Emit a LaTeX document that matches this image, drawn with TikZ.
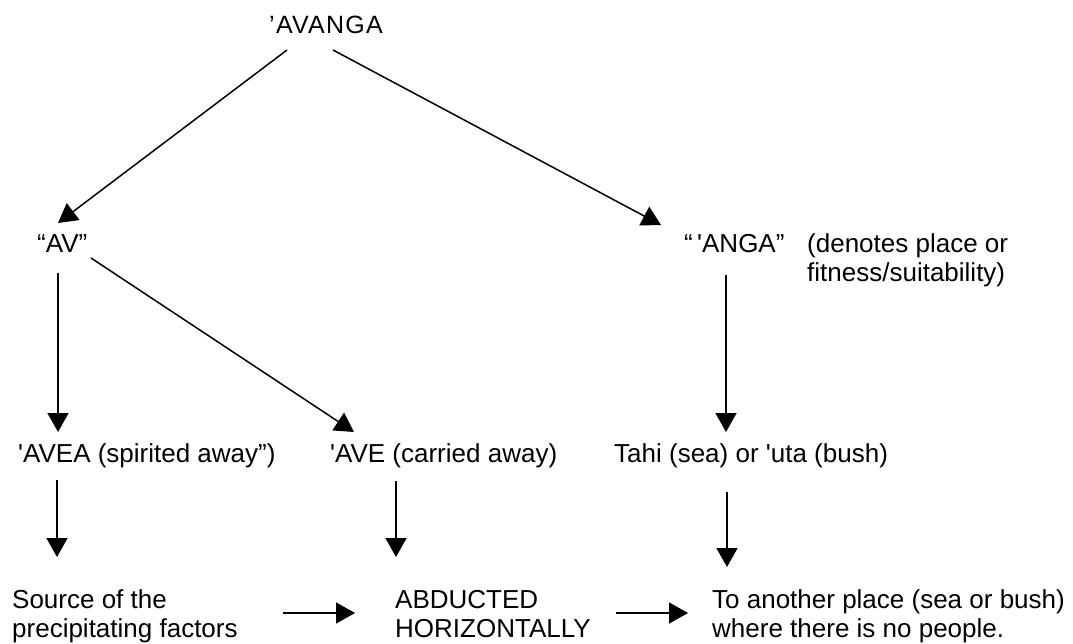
\documentclass[tikz,border=0pt]{standalone}
\usepackage{fontspec}
\setmainfont{Liberation Sans}
\usetikzlibrary{arrows.meta,calc}
\begin{document}
\begin{tikzpicture}[x=1pt,y=-1pt,
  lbl/.style={anchor=base west,inner sep=0pt,font=\fontsize{26}{30}\selectfont},
  ttl/.style={anchor=base west,inner sep=0pt,font=\fontsize{25}{28}\selectfont\addfontfeature{LetterSpace=5}},
  arr/.style={line width=1.5pt,-{Triangle[width=21pt,length=19pt]}}]
\useasboundingbox[fill=white] (0,0) rectangle (1073,644);
% nodes
\node[ttl] (avanga) at (269,34) {’AVANGA};
\node[lbl] (av) at (37,253) {“AV”};
\node[lbl] (anga) at (684,253) {“\,\textquotesingle ANGA”};
\node[lbl] (note1) at (807,253) {(denotes place or};
\node[lbl] (note2) at (807,282) {fitness/suitability)};
\node[lbl] (avea) at (18,462) {\textquotesingle AVEA (spirited away”)};
\node[lbl] (ave) at (330,462) {\textquotesingle AVE (carried away)};
\node[lbl] (tahi) at (614,462) {Tahi (sea) or \textquotesingle uta (bush)};
\node[lbl] (source1) at (12,608) {Source of the};
\node[lbl] (source2) at (12,637) {precipitating factors};
\node[lbl] (abd1) at (395,608) {ABDUCTED};
\node[lbl] (abd2) at (395,637) {HORIZONTALLY};
\node[lbl] (place1) at (712,608) {To another place (sea or bush)};
\node[lbl] (place2) at (712,637) {where there is no people.};
% connectors
\draw[arr] ([shift={(18,16)}]avanga.base west) -- ([shift={(21,-30)}]av.base west);
\draw[arr] ([shift={(64,16)}]avanga.base west) -- ([shift={(-23,-28)}]anga.base west);
\draw[arr] ([shift={(21,20)}]av.base west) -- ([shift={(40,-30)}]avea.base west);
\draw[arr] ([shift={(54,5)}]av.base west) -- ([shift={(24,-30)}]ave.base west);
\draw[arr] ([shift={(42,22)}]anga.base west) -- ([shift={(112,-30)}]tahi.base west);
\draw[arr] ([shift={(39,18)}]avea.base west) -- ([shift={(45,-51)}]source1.base west);
\draw[arr] ([shift={(66,19)}]ave.base west) -- ([shift={(1,-51)}]abd1.base west);
\draw[arr] ([shift={(113,30)}]tahi.base west) -- ([shift={(15,-41)}]place1.base west);
\draw[arr] ([shift={(271,5)}]source1.base west) -- ([shift={(-40,5)}]abd1.base west);
\draw[arr] ([shift={(221,5)}]abd1.base west) -- ([shift={(-24,5)}]place1.base west);
\end{tikzpicture}
\end{document}
